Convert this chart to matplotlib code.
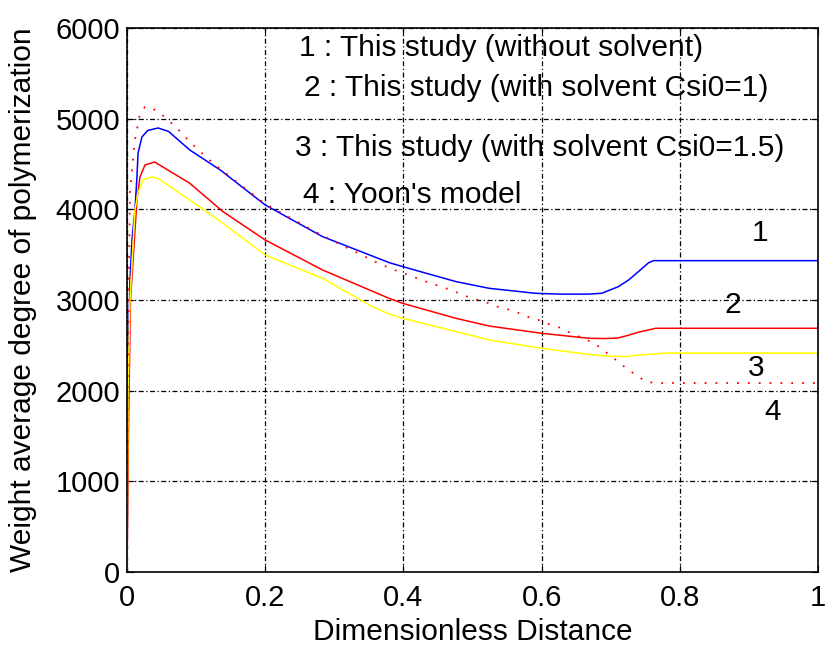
import matplotlib.pyplot as plt

plt.rcParams['font.family'] = ['Liberation Sans', 'DejaVu Sans']

# 1 : without solvent
x1 = [0, 0.002, 0.0043, 0.0072, 0.0115, 0.0144, 0.016, 0.0216, 0.03, 0.045, 0.06, 0.0909,
      0.135, 0.2, 0.283, 0.3795, 0.399, 0.476, 0.524, 0.591, 0.625, 0.668, 0.687, 0.711,
      0.726, 0.74, 0.755, 0.762, 1.0]
y1 = [0, 2400, 3220, 3660, 3993, 4357, 4621, 4798, 4870, 4897, 4860, 4654,
      4434, 4048, 3699, 3412, 3368, 3203, 3129, 3074, 3065, 3065, 3074, 3147,
      3221, 3312, 3412, 3434, 3434]
# 2 : with solvent Csi0=1
x2 = [0, 0.002, 0.005, 0.0144, 0.0188, 0.026, 0.04, 0.0909, 0.139, 0.2, 0.283, 0.3795,
      0.399, 0.476, 0.524, 0.6, 0.668, 0.69, 0.71, 0.725, 0.74, 0.755, 0.765, 1.0]
y2 = [0, 1500, 3000, 4103, 4357, 4489, 4522, 4287, 3974, 3662, 3331, 3018,
      2963, 2798, 2713, 2633, 2578, 2575, 2580, 2610, 2645, 2670, 2688, 2688]
# 3 : with solvent Csi0=1.5
x3 = [0, 0.0015, 0.0043, 0.0115, 0.0159, 0.023, 0.036, 0.045, 0.0909, 0.139, 0.2, 0.283,
      0.355, 0.3795, 0.399, 0.476, 0.524, 0.6, 0.668, 0.69, 0.72, 0.74, 0.78, 1.0]
y3 = [0, 2000, 3000, 3993, 4180, 4323, 4357, 4340, 4103, 3846, 3496, 3239,
      2927, 2845, 2798, 2651, 2559, 2467, 2400, 2385, 2375, 2393, 2415, 2415]
# 4 : Yoon's model
x4 = [0, 0.0008, 0.0043, 0.0087, 0.0115, 0.0188, 0.026, 0.0332, 0.0404, 0.055, 0.0794,
      0.091, 0.124, 0.2, 0.283, 0.365, 0.387, 0.411, 0.437, 0.466, 0.495, 0.524, 0.536,
      0.546, 0.563, 0.572, 0.586, 0.599, 0.611, 0.625, 0.64, 0.671, 0.683, 0.704, 0.722,
      0.74, 0.752, 0.765, 1.0]
y4 = [0, 2000, 4213, 4544, 4765, 5062, 5129, 5129, 5095, 5018, 4842,
      4743, 4511, 4060, 3710, 3400, 3331, 3265, 3191, 3118, 3030, 2963, 2927,
      2908, 2872, 2835, 2798, 2772, 2732, 2699, 2644, 2540, 2485, 2360, 2250,
      2154, 2099, 2084, 2084]

legend_lines = ['1 : This study (without solvent)',
                '2 : This study (with solvent Csi0=1)',
                '3 : This study (with solvent Csi0=1.5)',
                '4 : Yoon\'s model']
curve_ids = ['1', '2', '3', '4']

fig = plt.figure(figsize=(8.25, 6.51), dpi=100)
ax = fig.add_axes([127 / 825, 1 - 572 / 651, 691 / 825, 544 / 651])

ax.plot(x1, y1, color='blue', lw=1.1)
ax.plot(x2, y2, color='red', lw=1.1)
ax.plot(x3, y3, color='yellow', lw=1.1)
ax.plot(x4, y4, color='red', lw=1.3, ls=(0, (1, 5)))

ax.set_xlim(0, 1)
ax.set_ylim(0, 6000)
ax.set_xticks([0, 0.2, 0.4, 0.6, 0.8, 1])
ax.set_xticklabels(['0', '0.2', '0.4', '0.6', '0.8', '1'])
ax.set_yticks(range(0, 6001, 1000))
ax.grid(True, color='black', ls=(0, (4, 2, 1, 2)), lw=0.9)
ax.tick_params(labelsize=21, direction='in', length=5, pad=5,
               top=True, right=True)
ax.tick_params(axis='x', pad=9)
for s in ax.spines.values():
    s.set_linewidth(1.2)

ax.set_xlabel('Dimensionless Distance', fontsize=21.5)
ax.set_ylabel('Weight average degree of polymerization', fontsize=21.5)
ax.xaxis.set_label_coords(0.5, -0.085)
ax.yaxis.set_label_coords(-0.13, 0.5)

# legend text written inside the axes
tx = [0.249, 0.256, 0.243, 0.254]
ty = [5779, 5338, 4676, 4158]
for xx, yy, t in zip(tx, ty, legend_lines):
    ax.text(xx, yy, t, fontsize=21.5, va='center', ha='left')

# curve numbers
nx = [0.916, 0.877, 0.911, 0.935]
ny = [3739, 2945, 2250, 1765]
for xx, yy, t in zip(nx, ny, curve_ids):
    ax.text(xx, yy, t, fontsize=21.5, va='center', ha='center')

plt.savefig('out.png', dpi=100)
